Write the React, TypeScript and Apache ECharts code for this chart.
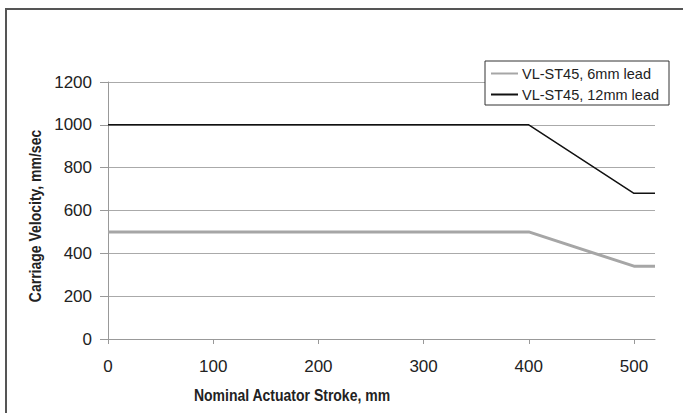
import React, { useEffect, useRef } from "react";
import * as echarts from "echarts";

const strokes = [0, 50, 100, 150, 200, 250, 300, 350, 400, 500, 520];
const lead6 = [500, 500, 500, 500, 500, 500, 500, 500, 500, 340, 340];
const lead12 = [1000, 1000, 1000, 1000, 1000, 1000, 1000, 1000, 1000, 680, 680];
const seriesNames = ["VL-ST45, 6mm lead", "VL-ST45, 12mm lead"];
const xTicks = [0, 100, 200, 300, 400, 500];
const xTitle = "Nominal Actuator Stroke, mm";
const yTitle = "Carriage Velocity, mm/sec";

export default function App() {
  const ref = useRef<HTMLDivElement>(null);
  useEffect(() => {
    if (!ref.current) return;
    const chart = echarts.init(ref.current, null, { renderer: "svg" });
    const font = "'Liberation Sans', Arial, sans-serif";
    chart.setOption({
      animation: false,
      backgroundColor: "#fff",
      grid: { left: 108, right: 28, top: 82, bottom: 74 },
      legend: {
        orient: "vertical",
        left: 485,
        top: 61,
        data: seriesNames,
        itemWidth: 27,
        itemHeight: 14,
        itemGap: 6,
        padding: [5, 10, 3, 5],
        borderColor: "#333",
        borderWidth: 1,
        borderRadius: 0,
        backgroundColor: "#fff",
        itemStyle: { opacity: 0 },
        textStyle: { fontFamily: font, fontSize: 14.5, color: "#222", padding: [0, 0, 0, -1] },
      },
      xAxis: {
        type: "value",
        min: 0,
        max: 520,
        interval: 100,
        splitLine: { show: false },
        axisLine: { show: true, lineStyle: { color: "#999", width: 1 } },
        axisTick: { show: true, length: 5, customValues: xTicks, lineStyle: { color: "#999" } },
        axisLabel: {
          customValues: xTicks,
          margin: 19,
          fontFamily: font,
          fontSize: 17,
          color: "#222",
          formatter: (v: number) => String(v),
        },
      },
      yAxis: {
        type: "value",
        min: 0,
        max: 1200,
        interval: 200,
        splitLine: { show: true, lineStyle: { color: "#aaa", width: 1 } },
        axisLine: { show: true, lineStyle: { color: "#999", width: 1 } },
        axisTick: { show: true, length: 8, lineStyle: { color: "#999" } },
        axisLabel: {
          margin: 16,
          fontFamily: font,
          fontSize: 17,
          color: "#222",
          formatter: (v: number) => String(v),
        },
      },
      series: [
        {
          name: seriesNames[0],
          type: "line",
          data: strokes.map((x, i) => [x, lead6[i]]),
          symbol: "none",
          lineStyle: { color: "#a6a6a6", width: 3 },
          itemStyle: { color: "#a6a6a6" },
          z: 3,
        },
        {
          name: seriesNames[1],
          type: "line",
          data: strokes.map((x, i) => [x, lead12[i]]),
          symbol: "none",
          lineStyle: { color: "#111", width: 1.5 },
          itemStyle: { color: "#111" },
          z: 4,
        },
      ],
      graphic: [
        {
          type: "line",
          shape: { x1: 5, y1: 9, x2: 683, y2: 9 },
          style: { stroke: "#555", lineWidth: 2 },
          silent: true,
        },
        {
          type: "line",
          shape: { x1: 6, y1: 8, x2: 6, y2: 413 },
          style: { stroke: "#555", lineWidth: 2 },
          silent: true,
        },
        {
          type: "text",
          x: 292,
          y: 395,
          scaleY: 1.2,
          style: {
            text: xTitle,
            fontFamily: font,
            fontWeight: "bold",
            fontSize: 14,
            fill: "#222",
            align: "center",
            verticalAlign: "middle",
          },
        },
        {
          type: "text",
          x: 35,
          y: 216,
          rotation: Math.PI / 2,
          scaleY: 1.2,
          style: {
            text: yTitle,
            fontFamily: font,
            fontWeight: "bold",
            fontSize: 14,
            fill: "#222",
            align: "center",
            verticalAlign: "middle",
          },
        },
      ],
    });
    return () => chart.dispose();
  }, []);
  return (
    <div
      ref={ref}
      style={{ position: "absolute", left: 0, top: 0, width: 683, height: 413 }}
    />
  );
}
